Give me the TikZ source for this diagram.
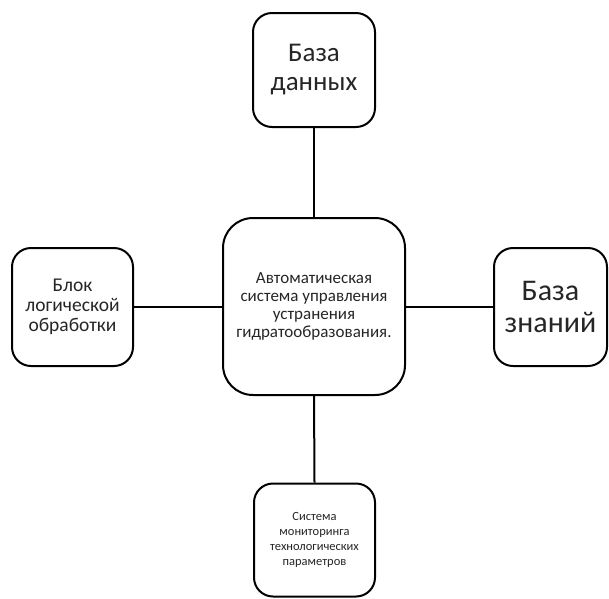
\documentclass[tikz,border=0pt]{standalone}
\usepackage{fontspec}
\setmainfont{Carlito}
\usepackage{tikz}
\usetikzlibrary{positioning}
\tikzset{
      unitbox/.style={
        draw=black,
        line width=2pt,
        fill=white,
        align=center,
        inner sep=0pt,
        text=black!85
      },
      linkline/.style={
        draw=black,
        line width=2pt
      }
    }

\begin{document}
\begin{tikzpicture}[x=1pt,y=-1pt]
    \useasboundingbox (0,0) rectangle (609,598);
    \node[unitbox, rounded corners=30pt, minimum width=182pt, minimum height=177pt, font=\fontsize{17}{18}\selectfont] (sys) at (314,306.5) {Автоматическая\\система управления\\устранения\\гидратообразования.};
    \node[unitbox, rounded corners=19pt, minimum width=122pt, minimum height=114pt, font=\fontsize{27}{29}\selectfont] (db) at (314,70) {База\\данных};
    \node[unitbox, rounded corners=19pt, minimum width=121pt, minimum height=118pt, font=\fontsize{19.5}{20}\selectfont] (logic) at (72.5,307) {Блок\\логической\\обработки};
    \node[unitbox, rounded corners=19pt, minimum width=113pt, minimum height=118pt, font=\fontsize{30}{32}\selectfont] (kb) at (550.5,307) {База\\знаний};
    \node[unitbox, rounded corners=19pt, minimum width=121pt, minimum height=113pt, font=\fontsize{12.5}{15}\selectfont] (mon) at (314.5,540) {Система\\мониторинга\\технологических\\параметров};
    \draw[linkline] (db.south) -- (sys.north);
    \draw[linkline] (sys.south) -- (mon.north);
    \draw[linkline] (logic.east) -- (sys.west |- logic.east);
    \draw[linkline] (sys.east |- kb.west) -- (kb.west);
    \end{tikzpicture}
\end{document}
